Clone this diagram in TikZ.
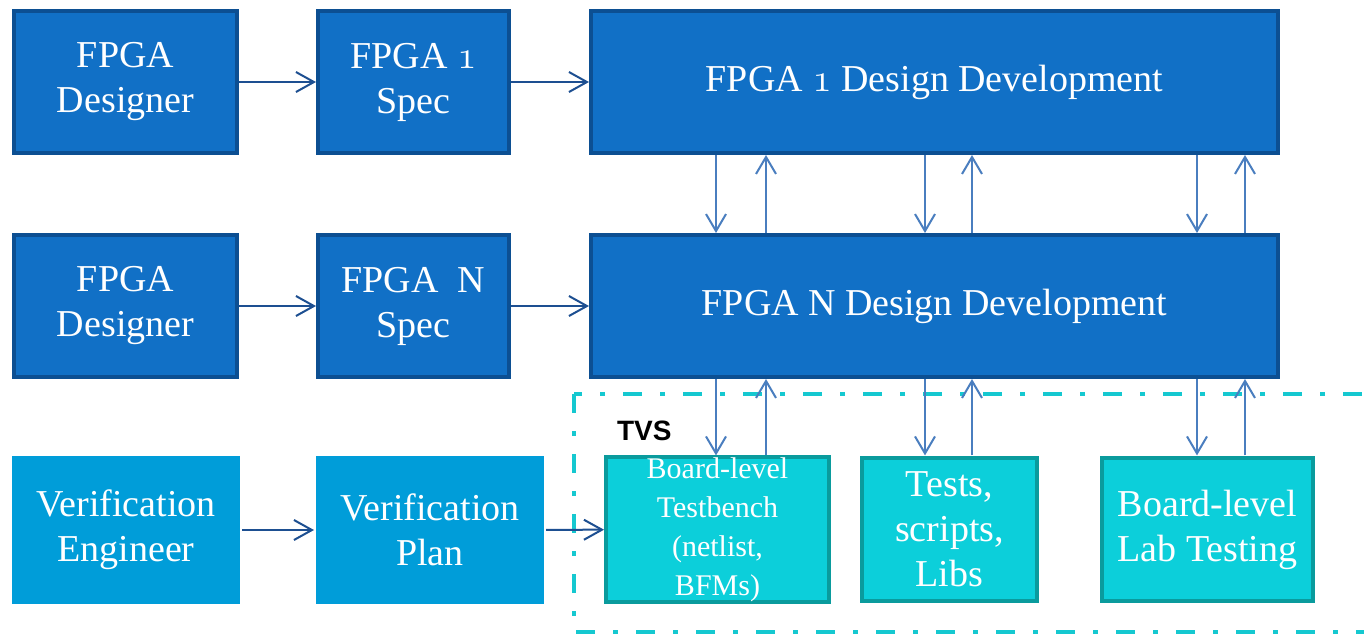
\documentclass[tikz,border=0pt]{standalone}
\usepackage{fontspec}
\setmainfont{Liberation Serif}
\newfontfamily\tvsfont{Liberation Sans}
\usetikzlibrary{arrows.meta}
\definecolor{devfill}{HTML}{1170C6}
\definecolor{devedge}{HTML}{0C4F92}
\definecolor{verfill}{HTML}{009DD9}
\definecolor{tvsfill}{HTML}{0CCFDA}
\definecolor{tvsedge}{HTML}{0A9B9D}
\definecolor{tvsline}{HTML}{15C8D0}
\definecolor{flowcol}{HTML}{1D4F91}
\definecolor{linkcol}{HTML}{4A7EBF}
\newcommand{\oldone}{\scalebox{1.15}{$\mathnormal{1}$}}

\begin{document}
\begin{tikzpicture}[x=0.5pt, y=-0.5pt,
    box/.style={rectangle, line width=2pt, text=white, align=center, inner sep=0pt, font=\fontsize{19}{22.5}\selectfont},
    devbox/.style={box, draw=devedge, fill=devfill},
    verbox/.style={box, fill=verfill},
    tvsbox/.style={box, draw=tvsedge, fill=tvsfill},
    flow/.style={->, >={Straight Barb[length=9pt,width=10pt]}, draw=flowcol, line width=1pt},
    link/.style={->, >={Straight Barb[length=8.5pt,width=10pt]}, draw=linkcol, line width=1pt}]
		\useasboundingbox[fill=white] (0,0) rectangle (1364,634);

		% TVS region
		\draw[tvsline, line width=2pt, dash pattern=on 9.5pt off 9pt on 2.5pt off 9pt] (574,394) rectangle (1390,632);
		\node[anchor=base west, font=\tvsfont\bfseries\fontsize{14}{16}\selectfont] (tvs) at (610,440) {TVS};

		% FPGA rows
		\node[devbox, minimum width=111.5pt, minimum height=71pt] (des1) at (125.5,82) {FPGA\\Designer};
		\node[devbox, minimum width=95.5pt, minimum height=71pt] (spec1) at (413.5,82) {FPGA \oldone\\Spec};
		\node[devbox, minimum width=343.5pt, minimum height=71pt] (dev1) at (934.5,82) {FPGA \oldone{} Design Development};

		\node[devbox, minimum width=111.5pt, minimum height=71pt] (desn) at (125.5,306) {FPGA\\Designer};
		\node[devbox, minimum width=95.5pt, minimum height=71pt] (specn) at (413.5,306) {FPGA\ \ N\\Spec};
		\node[devbox, minimum width=343.5pt, minimum height=71pt] (devn) at (934.5,306) {FPGA N Design Development};

		% verification row
		\node[verbox, minimum width=114pt, minimum height=74pt] (veng) at (126,530) {Verification\\Engineer};
		\node[verbox, minimum width=114pt, minimum height=74pt] (vplan) at (430,530) {Verification\\Plan};

		\node[tvsbox, minimum width=111.5pt, minimum height=71.5pt, font=\fontsize{15}{19.5}\selectfont] (bench) at (717.5,529.5) {Board-level\\Testbench\\(netlist,\\BFMs)};
		\node[tvsbox, minimum width=87.5pt, minimum height=71.5pt] (tests) at (949.5,529.5) {Tests,\\scripts,\\Libs};
		\node[tvsbox, minimum width=105.5pt, minimum height=71.5pt] (lab) at (1207.5,529.5) {Board-level\\Lab Testing};

		\draw[flow] (des1) -- (spec1);
		\draw[flow] (spec1) -- (dev1);
		\draw[flow] (desn) -- (specn);
		\draw[flow] (specn) -- (devn);
		\draw[flow] (veng) -- (vplan);
		\draw[flow] (vplan) -- (bench);

		\foreach \dn/\up in {716/766, 925/972, 1197/1245} {
			\draw[link] (\dn,0 |- dev1.south) -- (\dn,0 |- devn.north);
			\draw[link] (\up,0 |- devn.north) -- (\up,0 |- dev1.south);
			\draw[link] (\dn,0 |- devn.south) -- (\dn,0 |- bench.north);
			\draw[link] (\up,0 |- bench.north) -- (\up,0 |- devn.south);
		}
\end{tikzpicture}
\end{document}
